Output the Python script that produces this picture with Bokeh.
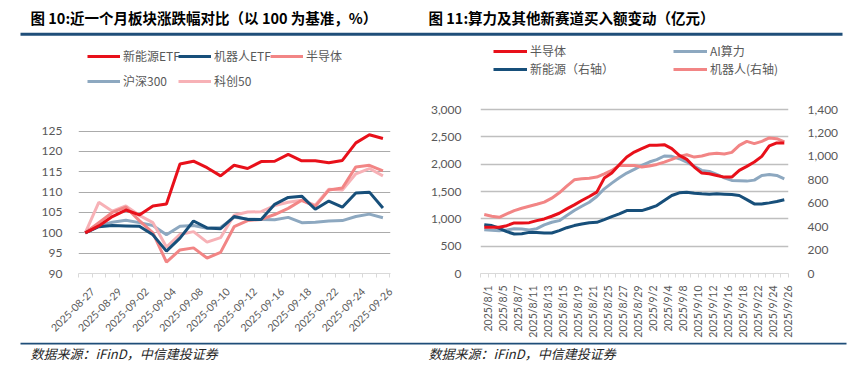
import math
from bokeh.plotting import figure
from bokeh.layouts import row, column
from bokeh.models import (FixedTicker, Label, Legend, LegendItem, BoxAnnotation,
                          LinearAxis, Range1d, NumeralTickFormatter, ColumnDataSource)
from bokeh.embed import file_html
from bokeh.resources import INLINE

# ---------------- data: left chart ----------------
left_dates = ["2025-08-27", "2025-08-28", "2025-08-29", "2025-09-01", "2025-09-02", "2025-09-03",
              "2025-09-04", "2025-09-05", "2025-09-08", "2025-09-09", "2025-09-10", "2025-09-11",
              "2025-09-12", "2025-09-15", "2025-09-16", "2025-09-17", "2025-09-18", "2025-09-19",
              "2025-09-22", "2025-09-23", "2025-09-24", "2025-09-25", "2025-09-26"]
nev_etf = [100, 101.7, 104.0, 105.6, 104.4, 106.6, 107.1, 116.9, 117.6, 116.0, 114.0, 116.6,
           115.8, 117.5, 117.6, 119.3, 117.7, 117.7, 117.2, 117.8, 122.1, 124.1, 123.2]
robot_etf = [100, 101.5, 101.8, 101.7, 101.6, 99.5, 95.5, 98.7, 102.9, 101.2, 101.0, 104.0,
             103.3, 103.3, 107.0, 108.7, 109.0, 105.8, 107.8, 106.3, 109.8, 110.0, 106.1]
semi_idx = [100, 102.5, 105.0, 106.3, 103.0, 100.0, 92.8, 95.8, 96.3, 93.8, 95.2, 101.5,
            103.0, 103.3, 104.5, 106.0, 108.0, 106.5, 110.5, 111.0, 116.2, 116.6, 115.2]
hs300 = [100, 101.7, 102.6, 103.1, 102.5, 101.8, 99.5, 101.6, 101.8, 101.1, 101.3, 103.8,
         103.4, 103.3, 103.2, 103.8, 102.5, 102.6, 102.9, 103.0, 104.0, 104.6, 103.7]
kc50 = [100, 107.5, 105.3, 106.6, 104.3, 102.5, 96.5, 99.6, 100.3, 97.7, 98.8, 104.3,
        105.1, 105.2, 106.7, 107.5, 108.0, 106.8, 110.7, 110.5, 114.5, 115.8, 114.0]
left_yticks = [90, 95, 100, 105, 110, 115, 120, 125]

# ---------------- data: right chart ----------------
right_dates = ["2025/8/1", "2025/8/4", "2025/8/5", "2025/8/6", "2025/8/7", "2025/8/8",
               "2025/8/11", "2025/8/12", "2025/8/13", "2025/8/14", "2025/8/15",
               "2025/8/18", "2025/8/19", "2025/8/20", "2025/8/21", "2025/8/22",
               "2025/8/25", "2025/8/26", "2025/8/27", "2025/8/28", "2025/8/29",
               "2025/9/1", "2025/9/2", "2025/9/3", "2025/9/4", "2025/9/5",
               "2025/9/8", "2025/9/9", "2025/9/10", "2025/9/11", "2025/9/12",
               "2025/9/15", "2025/9/16", "2025/9/17", "2025/9/18", "2025/9/19",
               "2025/9/22", "2025/9/23", "2025/9/24", "2025/9/25", "2025/9/26"]
semi_buy = [845, 845, 845, 875, 925, 925, 930, 967, 998, 1047, 1102, 1182, 1255, 1335, 1408,
            1488, 1745, 1837, 1990, 2130, 2222, 2284, 2345, 2345, 2357, 2284, 2161, 2088, 1947,
            1837, 1824, 1794, 1763, 1763, 1886, 1959, 2039, 2143, 2333, 2388, 2388]
ai_buy = [802, 790, 784, 796, 820, 814, 796, 820, 888, 937, 967, 1059, 1151, 1231, 1304,
          1408, 1549, 1653, 1751, 1837, 1904, 1978, 2039, 2082, 2149, 2143, 2100, 2039, 1959,
          1886, 1867, 1812, 1751, 1702, 1696, 1690, 1708, 1794, 1812, 1794, 1733]
nev_buy = [417, 409, 386, 357, 337, 340, 351, 351, 346, 346, 366, 391, 409, 423, 434, 437,
           460, 486, 509, 537, 537, 537, 557, 580, 623, 666, 689, 694, 686, 680, 677, 680,
           677, 674, 666, 631, 594, 594, 603, 614, 629]
robot_buy = [503, 489, 480, 509, 537, 557, 574, 591, 609, 643, 689, 746, 800, 809, 814, 823,
             851, 880, 923, 923, 923, 909, 917, 931, 951, 974, 1000, 1014, 994, 1003, 1020,
             1026, 1020, 1034, 1094, 1128, 1109, 1128, 1157, 1151, 1123]
right_yticks_left = [0, 500, 1000, 1500, 2000, 2500, 3000]
right_yticks_right = [0, 200, 400, 600, 800, 1000, 1200, 1400]

# ---------------- styles / layout plan (page pixels) ----------------
RED = "#E8101A"
NAVY = "#174F7A"
SALMON = "#F28585"
STEEL = "#8DA8C0"
PINK = "#F7B1B6"
RULE = "#1F4E79"
GREY_TXT = "#595959"
CJK = "Noto Sans CJK SC"
NUM = "Lato"

TOTAL_W, TOTAL_H = 854, 368
HEAD_H = 40                       # page y 0..40
FOOT_TOP = 342                    # footer page y 342..368
FOOT_H = TOTAL_H - FOOT_TOP
MAIN_TOP = HEAD_H
MAIN_H = FOOT_TOP - MAIN_TOP
HALF_W = TOTAL_W // 2

# frames (page px)
L_LEFT, L_RIGHT, L_TOP_TICK, L_BOTTOM = 78, 390, 131, 274
R_LEFT, R_RIGHT, R_TOP_TICK, R_BOTTOM = 477, 788, 109, 273

LBL_OFF = 0.55   # shift so rotated labels sit centred on their category
EXTRA = 0.06     # tiny range extension so the last shifted label is kept


def plain(p):
    p.outline_line_color = None
    p.background_fill_color = "white"
    p.border_fill_color = "white"
    p.xgrid.visible = False


def make_legend(p, label, r, x, y, gw):
    leg = Legend(items=[LegendItem(label=label, renderers=[r])], location=(x, y),
                 padding=0, margin=0, spacing=0, glyph_width=gw, glyph_height=16,
                 label_height=16, label_standoff=3, border_line_color=None,
                 background_fill_alpha=0, label_text_font=CJK,
                 label_text_font_size="12px", label_text_color=GREY_TXT,
                 label_text_baseline="middle")
    p.add_layout(leg)


def screen_box(p, l, r, t, b, color):
    p.add_layout(BoxAnnotation(left=l, right=r, top=t, bottom=b,
                               left_units="screen", right_units="screen",
                               top_units="screen", bottom_units="screen",
                               fill_color=color, fill_alpha=1.0, line_color=None))


def blank_fig(h):
    f = figure(width=TOTAL_W, height=h, x_range=Range1d(0, TOTAL_W), y_range=Range1d(0, h),
               output_backend="svg", toolbar_location=None, title=None,
               x_axis_location=None, y_axis_location=None, min_border=0)
    plain(f)
    f.ygrid.visible = False
    return f


# ================= HEADER =================
head = blank_fig(HEAD_H)
hy = lambda Y: HEAD_H - Y
for X, txt in [(30, "图 10:近一个月板块涨跌幅对比（以 100 为基准，%）"),
               (428, "图 11:算力及其他新赛道买入额变动（亿元）")]:
    head.add_layout(Label(x=X, y=hy(16.7), x_units="screen", y_units="screen", text=txt,
                          text_font=CJK, text_font_size="14.5px", text_font_style="bold",
                          text_color="black", text_baseline="middle", text_align="left"))
screen_box(head, 20, 842, hy(32.3), hy(35.3), RULE)

# ================= FOOTER =================
foot = blank_fig(FOOT_H)
fy = lambda Y: TOTAL_H - Y
screen_box(foot, 20, 846, fy(342), fy(344), RULE)
for X in (30, 428):
    foot.add_layout(Label(x=X, y=fy(352.7), x_units="screen", y_units="screen",
                          text="数据来源：iFinD，中信建投证券", text_font=CJK,
                          text_font_size="13px", text_font_style="italic",
                          text_color="#262626", text_baseline="middle", text_align="left"))

# ================= LEFT CHART =================
n1 = len(left_dates)
l_ymax = 90 + (L_BOTTOM - MAIN_TOP) / (L_BOTTOM - L_TOP_TICK) * 35
p1 = figure(width=HALF_W, height=MAIN_H, x_range=Range1d(-0.5, n1 - 0.5 + EXTRA),
            y_range=Range1d(90, l_ymax), output_backend="svg", toolbar_location=None,
            title=None, min_border_left=L_LEFT, min_border_right=HALF_W - L_RIGHT,
            min_border_top=0, min_border_bottom=FOOT_TOP - L_BOTTOM)
plain(p1)

src1 = ColumnDataSource(dict(x=list(range(n1)), nev=nev_etf, robot=robot_etf, semi=semi_idx,
                             hs=hs300, kc=kc50))
r_hs = p1.line("x", "hs", source=src1, color=STEEL, line_width=3)
r_kc = p1.line("x", "kc", source=src1, color=PINK, line_width=3)
r_semi = p1.line("x", "semi", source=src1, color=SALMON, line_width=3)
r_rob = p1.line("x", "robot", source=src1, color=NAVY, line_width=3)
r_nev = p1.line("x", "nev", source=src1, color=RED, line_width=3)

p1.yaxis.ticker = FixedTicker(ticks=left_yticks)
p1.ygrid.ticker = FixedTicker(ticks=left_yticks[1:])
p1.ygrid.grid_line_color = "#ABABAB"
p1.yaxis.axis_line_color = None
p1.yaxis.major_tick_line_color = None
p1.yaxis.minor_tick_line_color = None
p1.yaxis.major_label_text_font = NUM
p1.yaxis.major_label_text_font_size = "12px"
p1.yaxis.major_label_text_color = GREY_TXT
p1.yaxis.major_label_standoff = 10

lt1 = [i + LBL_OFF for i in range(0, n1, 2)]
p1.xaxis.ticker = FixedTicker(ticks=lt1, minor_ticks=[i - 0.5 for i in range(n1 + 1)])
p1.xaxis.major_label_overrides = {t: left_dates[i] for t, i in zip(lt1, range(0, n1, 2))}
p1.xaxis.major_label_orientation = math.pi / 4
p1.xaxis.major_label_text_font = NUM
p1.xaxis.major_label_text_font_size = "10.5px"
p1.xaxis.major_label_text_color = GREY_TXT
p1.xaxis.major_label_standoff = 12
p1.xaxis.axis_line_color = "#D9D9D9"
p1.xaxis.major_tick_out = 0
p1.xaxis.major_tick_in = 0
p1.xaxis.minor_tick_out = 4
p1.xaxis.minor_tick_in = 0
p1.xaxis.minor_tick_line_color = "#D9D9D9"

lx = lambda X: X - L_LEFT
ly = lambda Y: L_BOTTOM - Y - 8
make_legend(p1, "新能源ETF", r_nev, lx(87), ly(57), 33)
make_legend(p1, "机器人ETF", r_rob, lx(178), ly(57), 33)
make_legend(p1, "半导体", r_semi, lx(270), ly(57), 33)
make_legend(p1, "沪深300", r_hs, lx(87), ly(82), 33)
make_legend(p1, "科创50", r_kc, lx(178), ly(82), 33)

# ================= RIGHT CHART =================
n2 = len(right_dates)
ratio = (R_BOTTOM - MAIN_TOP) / (R_BOTTOM - R_TOP_TICK)
p2 = figure(width=TOTAL_W - HALF_W, height=MAIN_H, x_range=Range1d(-0.5, n2 - 0.5 + EXTRA),
            y_range=Range1d(0, 3000 * ratio), output_backend="svg", toolbar_location=None,
            title=None, min_border_left=R_LEFT - HALF_W, min_border_right=TOTAL_W - R_RIGHT,
            min_border_top=0, min_border_bottom=FOOT_TOP - R_BOTTOM)
plain(p2)
p2.extra_y_ranges = {"r": Range1d(0, 1400 * ratio)}

src2 = ColumnDataSource(dict(x=list(range(n2)), semi=semi_buy, ai=ai_buy, nev=nev_buy,
                             robot=robot_buy))
r2_ai = p2.line("x", "ai", source=src2, color=STEEL, line_width=3)
r2_rob = p2.line("x", "robot", source=src2, color=SALMON, line_width=3, y_range_name="r")
r2_nev = p2.line("x", "nev", source=src2, color=NAVY, line_width=3, y_range_name="r")
r2_semi = p2.line("x", "semi", source=src2, color=RED, line_width=3)

p2.yaxis.ticker = FixedTicker(ticks=right_yticks_left)
p2.yaxis.formatter = NumeralTickFormatter(format="0,0")
p2.ygrid.ticker = FixedTicker(ticks=right_yticks_left[1:])
p2.ygrid.grid_line_color = "#BFBFBF"
p2.ygrid.grid_line_width = 1.5

ax_r = LinearAxis(y_range_name="r", ticker=FixedTicker(ticks=right_yticks_right),
                  formatter=NumeralTickFormatter(format="0,0"))
p2.add_layout(ax_r, "right")
for ax in (p2.yaxis[0], ax_r):
    ax.axis_line_color = None
    ax.major_tick_line_color = None
    ax.minor_tick_line_color = None
    ax.major_label_text_font = NUM
    ax.major_label_text_font_size = "12px"
    ax.major_label_text_color = GREY_TXT
    ax.major_label_standoff = 13

lt2 = [i + LBL_OFF for i in range(0, n2, 2)]
p2.xaxis.ticker = FixedTicker(ticks=lt2, minor_ticks=[i - 0.5 for i in range(n2 + 1)])
p2.xaxis.major_label_overrides = {t: right_dates[i] for t, i in zip(lt2, range(0, n2, 2))}
p2.xaxis.major_label_orientation = math.pi / 2
p2.xaxis.major_label_text_font = NUM
p2.xaxis.major_label_text_font_size = "10.5px"
p2.xaxis.major_label_text_color = GREY_TXT
p2.xaxis.major_label_standoff = 8
p2.xaxis.axis_line_color = "#D9D9D9"
p2.xaxis.major_tick_out = 0
p2.xaxis.major_tick_in = 0
p2.xaxis.minor_tick_out = 4
p2.xaxis.minor_tick_in = 0
p2.xaxis.minor_tick_line_color = "#D9D9D9"

rx = lambda X: X - R_LEFT
ry = lambda Y: R_BOTTOM - Y - 8
make_legend(p2, "半导体", r2_semi, rx(490), ry(51), 34)
make_legend(p2, "AI算力", r2_ai, rx(670), ry(51), 34)
make_legend(p2, "新能源（右轴）", r2_nev, rx(490), ry(69), 34)
make_legend(p2, "机器人(右轴)", r2_rob, rx(670), ry(69), 34)

layout = column(head, row(p1, p2), foot)
open("out.html", "w").write(file_html(layout, INLINE))
